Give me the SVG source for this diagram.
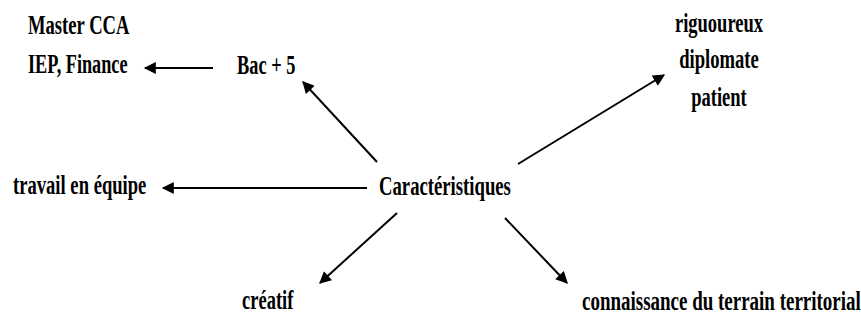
<svg xmlns="http://www.w3.org/2000/svg" width="861" height="322" viewBox="0 0 861 322">
<style>
.t{font-family:"Liberation Serif","Times New Roman",serif;font-weight:bold;font-size:28px;fill:#000}
.c line{stroke:#000;stroke-width:2;fill:none}
</style>
<defs>
<marker id="ah" viewBox="0 0 10 10" refX="9" refY="5" markerWidth="7" markerHeight="6" markerUnits="strokeWidth" orient="auto">
<path d="M0,0 L10,5 L0,10 Z" fill="#000"/>
</marker>
</defs>
<rect width="861" height="322" fill="#fff"/>
<g id="n-master"><text class="t" transform="translate(28,34) scale(0.665,1)">Master CCA</text><text class="t" transform="translate(28,73) scale(0.651,1)">IEP, Finance</text></g>
<g id="n-bac"><text class="t" transform="translate(237,74) scale(0.656,1)">Bac + 5</text></g>
<g id="n-carac"><text class="t" transform="translate(379,195) scale(0.668,1)">Caractéristiques</text></g>
<g id="n-travail"><text class="t" transform="translate(13,194) scale(0.665,1)">travail en équipe</text></g>
<g id="n-qualites"><text class="t" text-anchor="middle" transform="translate(719,32) scale(0.661,1)">riguoureux</text><text class="t" text-anchor="middle" transform="translate(719,68) scale(0.665,1)">diplomate</text><text class="t" text-anchor="middle" transform="translate(719,106) scale(0.661,1)">patient</text></g>
<g id="n-creatif"><text class="t" transform="translate(242,309) scale(0.661,1)">créatif</text></g>
<g id="n-terrain"><text class="t" transform="translate(582,310) scale(0.678,1)">connaissance du terrain territorial</text></g>
<g class="c" id="connectors">
<line x1="213" y1="68" x2="145" y2="68" marker-end="url(#ah)"/>
<line x1="377" y1="162" x2="303" y2="82" marker-end="url(#ah)"/>
<line x1="367" y1="188" x2="163" y2="188" marker-end="url(#ah)"/>
<line x1="518" y1="164" x2="664" y2="75" marker-end="url(#ah)"/>
<line x1="397" y1="213" x2="320" y2="283" marker-end="url(#ah)"/>
<line x1="505" y1="218" x2="567" y2="283" marker-end="url(#ah)"/>
</g>
</svg>
